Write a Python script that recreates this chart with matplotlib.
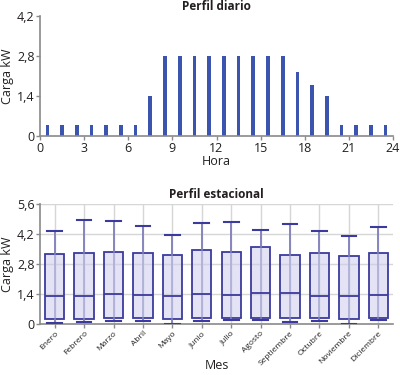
import numpy as np
import matplotlib as mpl
mpl.use('Agg')
import matplotlib.pyplot as plt
from matplotlib.ticker import FuncFormatter

plt.rcParams['font.family'] = ['Open Sans', 'DejaVu Sans']

# Daily profile (hourly bars at half hours)
horas = [0.5, 1.5, 2.5, 3.5, 4.5, 5.5, 6.5, 7.5, 8.5, 9.5, 10.5, 11.5,
         12.5, 13.5, 14.5, 15.5, 16.5, 17.5, 18.5, 19.5, 20.5, 21.5, 22.5, 23.5]
carga_hora = [0.4, 0.4, 0.4, 0.4, 0.4, 0.4, 0.4, 1.4, 2.8, 2.8, 2.8, 2.8,
              2.8, 2.8, 2.8, 2.8, 2.8, 2.25, 1.8, 1.4, 0.4, 0.4, 0.4, 0.4]

# Seasonal profile (box plot per month)
meses = ['Enero', 'Febrero', 'Marzo', 'Abril', 'Mayo', 'Junio', 'Julio',
         'Agosto', 'Septiembre', 'Octubre', 'Noviembre', 'Diciembre']
minimo = [0.05, 0.12, 0.14, 0.14, 0.02, 0.17, 0.20, 0.20, 0.09, 0.14, 0.03, 0.20]
q1 = [0.26, 0.25, 0.29, 0.29, 0.26, 0.29, 0.29, 0.29, 0.29, 0.29, 0.25, 0.29]
mediana = [1.32, 1.32, 1.43, 1.35, 1.33, 1.43, 1.35, 1.46, 1.45, 1.33, 1.33, 1.35]
q3 = [3.26, 3.33, 3.38, 3.33, 3.24, 3.47, 3.35, 3.58, 3.24, 3.30, 3.20, 3.30]
maximo = [4.36, 4.87, 4.81, 4.58, 4.16, 4.72, 4.74, 4.38, 4.69, 4.32, 4.13, 4.52]

comma = FuncFormatter(lambda v, p: ('%g' % v).replace('.', ','))
spine_col = '#8a8a8a'
txt_col = '#231f20'

fig = plt.figure(figsize=(4, 3.75), dpi=100)

# --- Perfil diario
ax1 = fig.add_axes([0.1, 0.6373, 0.8825, 0.32])
ax1.bar(horas, carga_hora, width=0.25, color='#3b54ad')
ax1.set_xlim(0, 24)
ax1.set_ylim(0, 4.2)
ax1.set_xticks(np.arange(0, 25, 3))
ax1.set_yticks([0, 1.4, 2.8, 4.2])
ax1.yaxis.set_major_formatter(comma)
ax1.set_xlabel('Hora', fontsize=9, color=txt_col, labelpad=0)
ax1.set_ylabel('Carga kW', fontsize=9, color=txt_col, labelpad=2)
ax1.set_title('Perfil diario', fontsize=8.5, fontweight='bold', color=txt_col, pad=4)

# --- Perfil estacional
ax2 = fig.add_axes([0.1, 0.1352, 0.8825, 0.3208])
pos = np.arange(1, 13)
ax2.vlines(pos, minimo, maximo, color='#8585bd', lw=1.2, zorder=2)
stats = []
for i in range(len(meses)):
    stats.append({'whislo': minimo[i], 'q1': q1[i], 'med': mediana[i],
                  'q3': q3[i], 'whishi': maximo[i], 'fliers': []})
ax2.bxp(stats, positions=pos, widths=0.66, patch_artist=True, showfliers=False,
        boxprops=dict(facecolor=(0.80, 0.80, 0.93, 0.55), edgecolor='#3b3b9e', lw=1.3),
        medianprops=dict(color='#3b3b9e', lw=1.3),
        whiskerprops=dict(color='#8585bd', lw=1.2),
        capprops=dict(color='#3b3b9e', lw=1.5),
        capwidths=0.5, zorder=3)
ax2.set_xlim(0.5, 12.5)
ax2.set_ylim(0, 5.6)
ax2.set_yticks([0, 1.4, 2.8, 4.2, 5.6])
ax2.yaxis.set_major_formatter(comma)
ax2.set_xticks(pos)
ax2.set_xticklabels(meses, rotation=45, ha='right', rotation_mode='anchor', fontsize=6)
ax2.grid(True, color='#d6d6d6', lw=1, zorder=0)
ax2.set_axisbelow(True)
ax2.set_xlabel('Mes', fontsize=9, color=txt_col)
ax2.xaxis.set_label_coords(0.5, -0.285)
ax2.set_ylabel('Carga kW', fontsize=9, color=txt_col, labelpad=2)
ax2.set_title('Perfil estacional', fontsize=8.5, fontweight='bold', color=txt_col, pad=4)

for ax in (ax1, ax2):
    for s in ('top', 'right'):
        ax.spines[s].set_visible(False)
    for s in ('left', 'bottom'):
        ax.spines[s].set_color(spine_col)
        ax.spines[s].set_linewidth(1.2)
    ax.tick_params(colors=spine_col, labelcolor=txt_col, length=3, width=1, pad=1)
    ax.tick_params(axis='y', labelsize=9)
ax1.tick_params(axis='x', labelsize=9)

plt.savefig('out.png', dpi=100)
